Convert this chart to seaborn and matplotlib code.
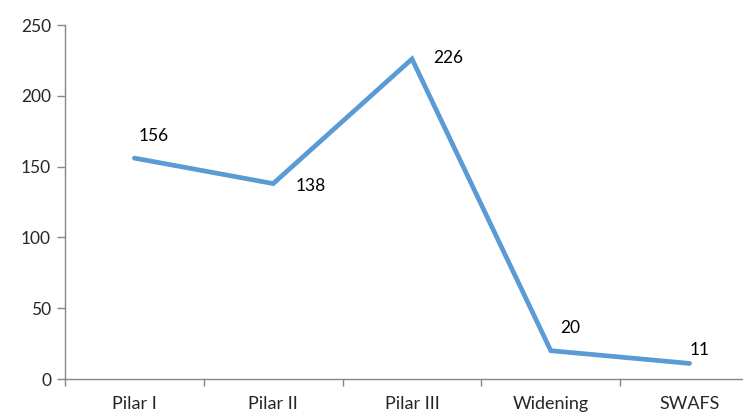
import matplotlib
matplotlib.use("Agg")
import matplotlib.pyplot as plt
import seaborn as sns
import pandas as pd

categories = ["Pilar I", "Pilar II", "Pilar III", "Widening", "SWAFS"]
values = [156, 138, 226, 20, 11]
y_ticks = [0, 50, 100, 150, 200, 250]

# label offsets in points (dx, dy) relative to each data point
label_offsets = [(3, 16), (16, -2), (15, 1), (7, 16), (0, 10)]

sns.set_theme(style="white")
plt.rcParams["font.family"] = ["Lato", "DejaVu Sans"]

df = pd.DataFrame({"category": categories, "value": values})
df["pos"] = range(len(categories))

fig = plt.figure(figsize=(7.43, 4.15), dpi=100)
ax = fig.add_axes([65 / 743, 36 / 415, 694 / 743, 354 / 415])

sns.lineplot(data=df, x="pos", y="value", ax=ax, color="#5B9BD5",
             linewidth=3.4, solid_joinstyle="miter", solid_capstyle="round",
             clip_on=False)

for (x, v), (dx, dy) in zip(zip(df["pos"], df["value"]), label_offsets):
    ax.annotate(str(v), (x, v), xytext=(dx, dy), textcoords="offset points",
                ha="left", va="center", fontsize=12.5, color="black")

ax.set_xlim(-0.5, len(categories) - 0.5)
ax.set_ylim(0, 250)
ax.set_yticks(y_ticks)
ax.set_yticklabels([str(t) for t in y_ticks], fontsize=12.5)

# category labels centred, tick marks on the category boundaries
ax.set_xticks(range(len(categories)))
ax.set_xticklabels(categories, fontsize=13)
ax.set_xticks([i - 0.5 for i in range(len(categories) + 1)], minor=True)
ax.tick_params(axis="x", which="major", length=0, pad=12)
ax.tick_params(axis="x", which="minor", length=5, width=1, color="#868686",
               direction="out", bottom=True)
ax.tick_params(axis="y", length=6, width=1, color="#868686", direction="out",
               left=True, pad=4)

for side in ["top", "right"]:
    ax.spines[side].set_visible(False)
for side in ["left", "bottom"]:
    ax.spines[side].set_color("#868686")
    ax.spines[side].set_linewidth(1)

ax.set_xlabel("")
ax.set_ylabel("")

fig.savefig("out.png", dpi=100)
